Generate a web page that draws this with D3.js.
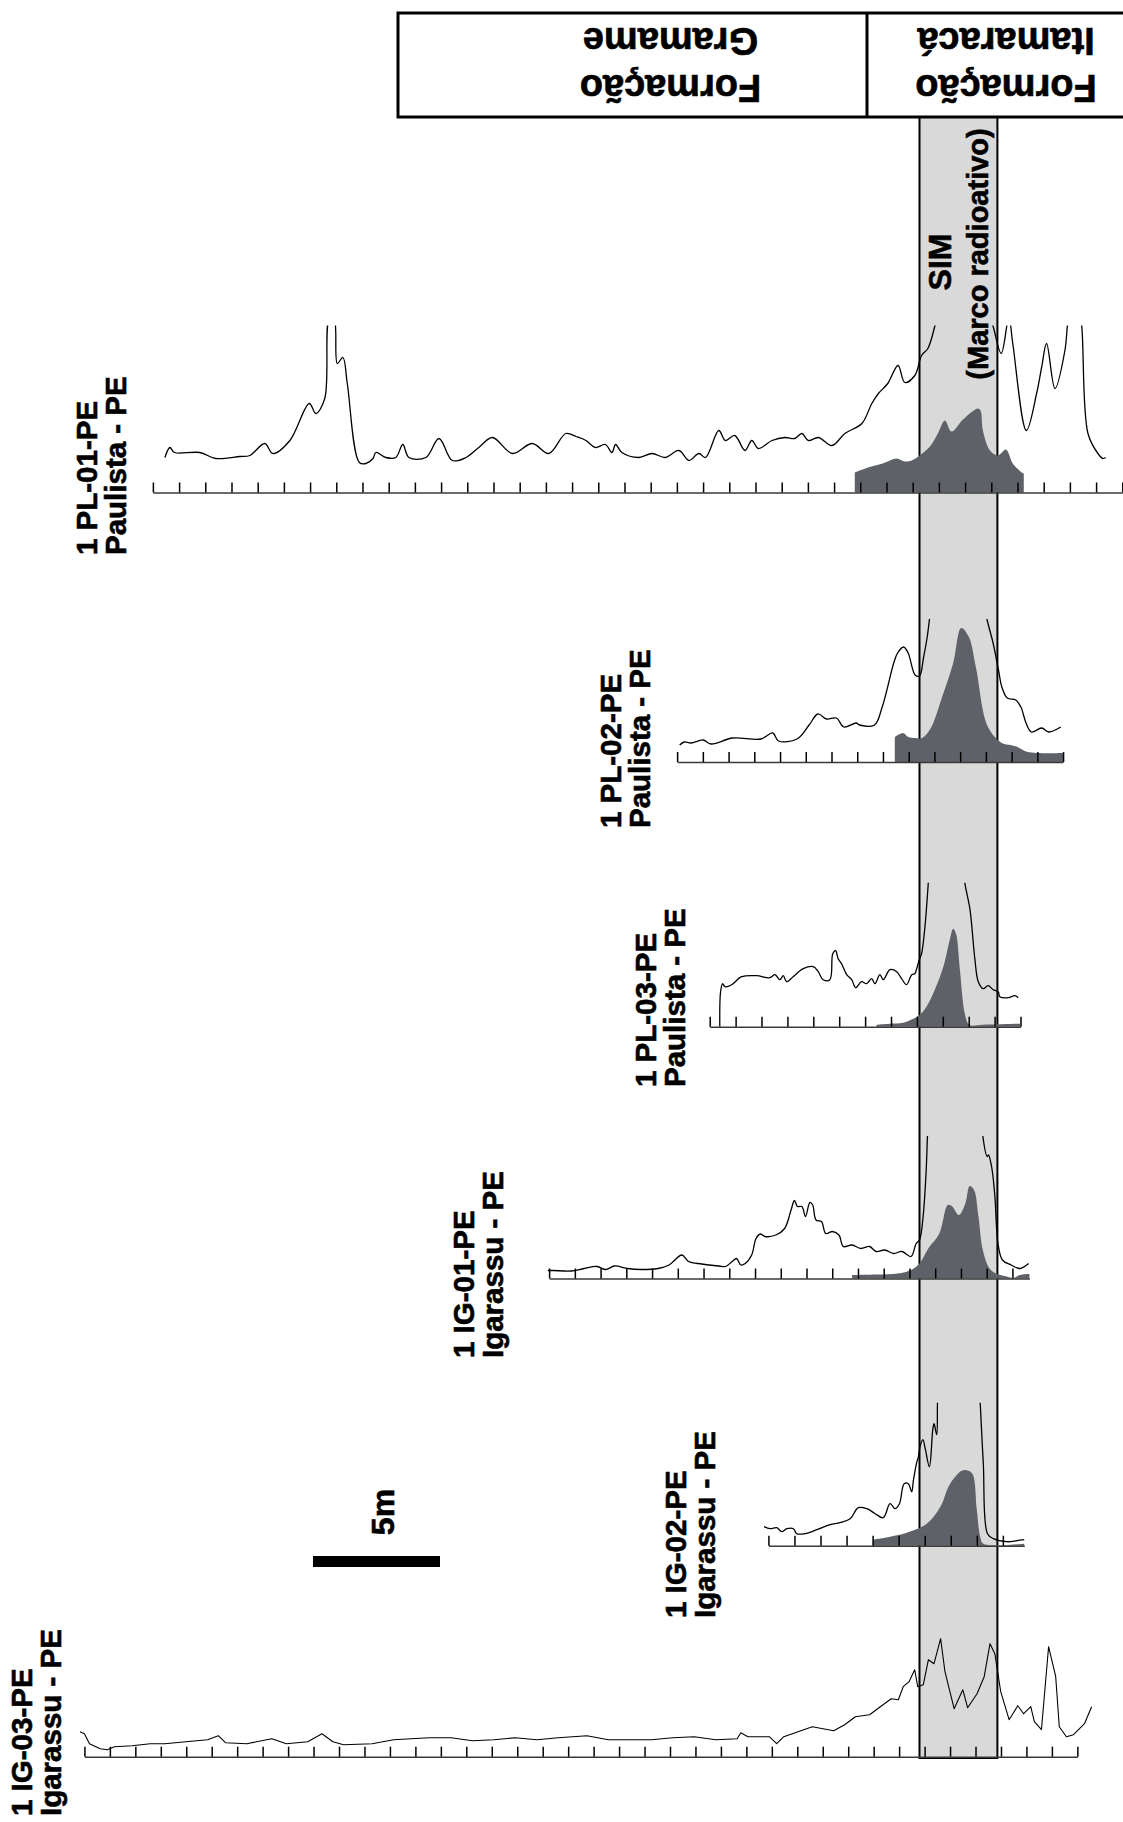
<!DOCTYPE html>
<html>
<head>
<meta charset="utf-8">
<script src="https://cdn.jsdelivr.net/npm/d3@7"></script>
<style>
body { margin:0; background:#fff; }
svg { display:block; }
text { font-family: "Liberation Sans", Arial, Helvetica, sans-serif; font-weight:bold; fill:#000; stroke:#000; stroke-width:0.6px; }
</style>
</head>
<body>
<svg id="chart"></svg>
<script>
var width = 1123;
var height = 1822;

// wells, from top of page to bottom
var wellIds = ["1 PL-01-PE", "1 PL-02-PE", "1 PL-03-PE", "1 IG-01-PE", "1 IG-02-PE", "1 IG-03-PE"];
var wellTowns = ["Paulista - PE", "Paulista - PE", "Paulista - PE", "Igarassu - PE", "Igarassu - PE", "Igarassu - PE"];
// depth (m, from first tick) of the top of the SIM marker in each well
var simTop = [29.26, 9.42, 8.10, 14.39, 5.80, 32.80];
// logged interval (m)
var logLength = [37, 15, 12, 18.66, 9.82, 39];

// gamma ray curves [depth m, API]
var grPL01 = [[0.46,35],[0.65,45],[0.82,40],[1.79,40],[2.40,34],[3.32,36],[3.70,37],[4.27,49],[4.58,39],[5.23,52],[5.97,89],[6.22,79],[6.56,94],[6.74,175],[6.91,175],[7.04,129],[7.25,135],[7.42,109],[7.88,30],[8.13,29],[8.40,34],[8.51,40],[8.89,35],[9.27,35],[9.54,48],[9.77,35],[10.42,35],[10.92,54],[11.43,32],[11.95,35],[12.44,45],[12.96,55],[13.72,39],[14.48,49],[15.11,39],[15.76,59],[16.15,56],[16.53,52],[16.89,45],[17.27,48],[17.52,40],[17.66,48],[17.90,40],[18.55,35],[19.05,39],[19.56,35],[20.08,42],[20.46,32],[20.84,39],[21.09,35],[21.60,62],[21.85,52],[22.21,57],[22.60,42],[22.86,52],[23.11,44],[23.63,52],[24.12,55],[24.50,54],[24.77,59],[25.02,52],[25.40,55],[25.92,47],[26.41,59],[27.06,69],[27.44,89],[27.69,99],[28.05,109],[28.44,127],[28.70,110],[29.08,117],[29.34,137],[29.58,144],[29.85,167],[30.04,190],[31.76,190],[32.06,167],[32.38,139],[32.67,175],[32.82,149],[33.34,62],[33.73,99],[33.92,125],[34.11,149],[34.43,104],[34.81,142],[34.92,170],[35.08,190],[35.31,190],[35.45,167],[35.69,59],[36.07,39],[36.26,34],[36.37,35]];
var grPL02 = [[0.10,17],[0.27,20],[0.54,19],[1.01,22],[1.32,18],[2.16,24],[3.25,23],[3.72,29],[3.94,21],[4.66,23],[5.13,37],[5.47,48],[5.81,43],[6.19,44],[6.48,35],[6.96,39],[7.09,37],[7.67,37],[7.97,55],[8.43,100],[8.57,109],[8.80,115],[8.98,109],[9.25,87],[9.42,86],[9.58,105],[9.72,125],[9.81,143],[9.91,160],[11.93,160],[12.04,143],[12.28,119],[12.49,92],[12.62,75],[12.83,64],[13.16,62],[13.36,55],[13.56,39],[13.77,30],[14.17,34],[14.44,30],[14.91,35]];
var grPL03 = [[0.39,0],[0.42,35],[0.50,43],[0.59,40],[0.85,42],[1.23,50],[1.81,51],[2.32,49],[2.52,52],[2.71,47],[2.84,51],[2.97,45],[3.22,50],[3.61,58],[4.00,60],[4.19,55],[4.38,47],[4.64,47],[4.75,73],[4.86,76],[4.96,68],[5.09,63],[5.29,52],[5.48,47],[5.64,39],[5.86,45],[6.06,43],[6.25,48],[6.38,43],[6.57,52],[6.70,47],[6.96,57],[7.22,55],[7.41,48],[7.60,42],[7.80,52],[7.92,53],[7.99,58],[8.09,67],[8.18,73],[8.31,100],[8.44,144],[8.50,170],[9.78,170],[9.85,144],[10.05,117],[10.24,67],[10.37,45],[10.56,38],[10.75,41],[10.95,37],[11.14,35],[11.20,30],[11.53,29],[11.78,31],[11.91,29]];
var grIG01 = [[-0.05,8],[0.17,8],[0.85,7.5],[1.36,10],[1.86,12],[2.20,9],[2.54,12.5],[3.05,10],[3.55,9],[4.23,10],[4.66,13.5],[5.16,23.5],[5.42,17],[5.93,14.5],[6.60,12.5],[6.86,12],[7.11,17],[7.28,20],[7.45,13.5],[7.62,15],[7.87,23.5],[8.04,40],[8.21,44.5],[8.38,42],[8.81,43.5],[9.15,50],[9.40,68.5],[9.53,78],[9.65,72],[9.82,72],[9.96,62],[10.13,76],[10.24,73.5],[10.37,58.5],[10.58,57],[10.75,45],[11.01,47],[11.26,43.5],[11.43,32],[11.77,33.5],[12.11,30],[12.45,32],[12.70,27],[13.04,28.5],[13.38,25],[13.71,27],[14.06,22],[14.26,35],[14.39,38.5],[14.53,62],[14.65,108.5],[14.70,142.5],[14.76,170],[16.79,170],[16.85,142.5],[17.02,122],[17.07,123.5],[17.19,112],[17.31,85],[17.44,35],[17.61,18.5],[17.95,13.5],[18.29,10],[18.63,15]];
var grIG02 = [[-0.17,19],[0.07,17],[0.32,18],[0.51,14],[0.71,17],[0.96,17],[1.09,12],[1.41,12],[1.86,16],[2.37,21],[2.75,23],[3.14,27],[3.45,38],[3.78,37],[4.10,32],[4.41,28],[4.67,42],[4.86,37],[5.03,42],[5.21,62],[5.37,62],[5.50,54],[5.57,66],[5.70,84],[5.76,89],[5.82,99],[5.93,106],[6.02,97],[6.18,79],[6.31,116],[6.36,122],[6.46,111],[6.49,143],[6.52,170],[8.09,170],[8.13,143],[8.25,82],[8.41,12],[8.64,7],[9.15,4],[9.54,5],[9.82,6]];
var grIG03 = [[-0.17,25],[0,23],[0.20,13],[0.62,8],[0.90,7],[1.18,10],[1.88,11],[2.58,13],[3.15,13],[3.99,15],[4.84,17],[5.26,21],[5.54,14],[6.38,13],[7.36,18],[7.93,13],[8.77,15],[9.33,23],[9.76,15],[10.18,12],[11.30,13],[12.14,17],[13.55,19],[14.40,19],[15.24,16],[16.08,17],[16.92,19],[17.77,17],[18.61,19],[19.18,20],[19.74,21],[20.58,17],[21.42,17],[22.27,17],[23.11,19],[23.95,20],[24.80,17],[25.64,18],[25.78,24],[26.06,20],[26.90,20],[27.19,13],[27.47,20],[28.03,25],[28.59,30],[29.01,28],[29.43,26],[29.86,32],[30.28,40],[30.84,42],[31.26,50],[31.69,58],[31.97,57],[32.16,70],[32.39,75],[32.61,87],[32.73,70],[32.95,72],[33.15,97],[33.37,93],[33.63,118],[33.80,85],[34.16,48],[34.50,67],[34.69,49],[35.06,63],[35.34,80],[35.57,113],[35.76,103],[35.99,65],[36.32,37],[36.66,51],[36.89,43],[37.17,50],[37.31,35],[37.59,27],[37.87,110],[38.15,80],[38.29,30],[38.57,20],[38.85,22],[39.28,33],[39.56,50]];

// second log, shaded [depth m, value]
var fillPL01 = [[26.79,20],[27.29,25],[27.86,29],[28.39,34],[28.70,31],[28.96,32],[29.66,46],[29.96,59],[30.23,72],[30.48,61],[30.92,73],[31.49,84],[31.59,82],[31.68,62],[31.95,42],[32.25,37],[32.56,43],[32.82,29],[33.16,20],[33.24,19]];
var fillPL02 = [[8.46,25],[8.78,29],[8.98,25],[9.25,24],[9.52,24],[9.86,34],[10.26,62],[10.73,99],[11.04,134],[11.34,125],[11.61,95],[12.08,35],[12.62,19],[12.96,17],[13.23,15],[13.63,10],[15.0,9]];
var fillPL03 = [[6.44,2],[6.96,3],[7.47,4],[7.86,8],[8.12,12],[8.37,20],[8.69,37],[9.02,60],[9.27,87],[9.40,98],[9.51,93],[9.66,57],[9.85,13],[10.02,2],[10.56,2],[11.98,3]];
var fillIG01 = [[11.77,3.5],[12.70,4],[13.55,5],[14.06,8.5],[14.39,15],[14.73,30],[15.16,45],[15.49,73.5],[15.66,72],[15.92,63.5],[16.17,75],[16.34,92.5],[16.51,88.5],[16.68,62],[16.85,28.5],[17.11,10],[17.36,5],[17.78,2],[18.03,0.5],[18.29,3.5],[18.66,4.5]];
var fillIG02 = [[4.01,6],[4.67,9],[5.31,13],[5.82,18],[6.08,22],[6.40,31],[6.66,42],[6.91,59],[7.17,69],[7.42,75],[7.68,75],[7.85,71],[8.00,36],[8.13,9],[8.25,2],[9.82,2]];

var grCurves = [grPL01, grPL02, grPL03, grIG01, grIG02, grIG03];
var fillCurves = [fillPL01, fillPL02, fillPL03, fillIG01, fillIG02, null];

var formationNames = [["Formação", "Gramame"], ["Formação", "Itamaracá"]];
var markerText = ["SIM", "(Marco radioativo)"];
var scaleMeters = 5;
var scaleText = "5m";

// page layout
var band = {left: 919.5, right: 997.4, top: 117, bottom: 1758};
var header = {left: 398, top: 13, bottom: 117, split: 867};
var trackLayout = [
    {axisY: 492.5, pxPerM: 26.2, clipH: 167, labelX: 97, labelY: 555},
    {axisY: 762, pxPerM: 25.73, clipH: 143, labelX: 621, labelY: 828},
    {axisY: 1026.7, pxPerM: 25.9, clipH: 144, labelX: 656, labelY: 1087},
    {axisY: 1278.5, pxPerM: 25.74, clipH: 142.5, labelX: 474, labelY: 1358},
    {axisY: 1545.7, pxPerM: 26.05, clipH: 143, labelX: 686, labelY: 1618},
    {axisY: 1756.7, pxPerM: 25.46, clipH: 170, labelX: 32, labelY: 1816}
];

var svg = d3.select("#chart")
    .attr("width", width)
    .attr("height", height);

var defs = svg.append("defs");

var drawBand = function()
{
    svg.append("rect")
        .attr("x", band.left)
        .attr("y", band.top)
        .attr("width", band.right - band.left)
        .attr("height", band.bottom - band.top)
        .attr("fill", "#d9d9d9")
        .attr("stroke", "#000")
        .attr("stroke-width", 2);
}

var drawHeader = function()
{
    svg.append("rect")
        .attr("x", header.left)
        .attr("y", header.top)
        .attr("width", width - header.left + 10)
        .attr("height", header.bottom - header.top)
        .attr("fill", "#fff")
        .attr("stroke", "#000")
        .attr("stroke-width", 3);
    svg.append("line")
        .attr("x1", header.split).attr("x2", header.split)
        .attr("y1", header.top).attr("y2", header.bottom)
        .attr("stroke", "#000")
        .attr("stroke-width", 3);

    var centers = [(header.left + header.split) / 2 + 38, (header.split + width) / 2 + 11];
    formationNames.forEach(function(name, i)
    {
        var t = svg.append("text")
            .attr("transform", "translate(" + centers[i] + ",65) rotate(180)")
            .attr("text-anchor", "middle")
            .attr("font-size", 38);
        t.append("tspan").attr("x", 0).attr("y", -10).text(name[0]);
        t.append("tspan").attr("x", 0).attr("y", 37).text(name[1]);
    });

    svg.append("text")
        .attr("transform", "translate(951,262) rotate(-90)")
        .attr("text-anchor", "middle")
        .attr("font-size", 32)
        .text(markerText[0]);
    svg.append("text")
        .attr("transform", "translate(988,254) rotate(-90)")
        .attr("text-anchor", "middle")
        .attr("font-size", 29)
        .text(markerText[1]);
}

var drawWell = function(i)
{
    var lay = trackLayout[i];
    var x0 = band.left - simTop[i] * lay.pxPerM;

    var xScale = d3.scaleLinear()
        .domain([0, logLength[i]])
        .range([x0, x0 + logLength[i] * lay.pxPerM]);

    var yScale = d3.scaleLinear()
        .domain([0, 170])
        .range([lay.axisY, lay.axisY - 170]);

    defs.append("clipPath")
        .attr("id", "clip" + i)
        .append("rect")
        .attr("x", 0)
        .attr("y", lay.axisY - lay.clipH)
        .attr("width", width)
        .attr("height", lay.clipH + 4);

    var g = svg.append("g")
        .attr("clip-path", "url(#clip" + i + ")");

    // IG-03 is a raw jagged log, the others are smoothed
    var curve = i == 5 ? d3.curveLinear : d3.curveCatmullRom.alpha(0.5);

    if (fillCurves[i])
    {
        var area = d3.area()
            .x(function(d) { return xScale(d[0]) })
            .y0(lay.axisY)
            .y1(function(d) { return yScale(d[1]) })
            .curve(curve);
        g.append("path")
            .datum(fillCurves[i])
            .attr("d", area)
            .attr("fill", "#5f6168");
    }

    var axis = d3.axisTop(xScale)
        .tickValues(d3.range(0, Math.floor(logLength[i] + 0.01) + 1))
        .tickSize(10)
        .tickSizeOuter(0)
        .tickFormat("");

    var ax = svg.append("g")
        .attr("transform", "translate(0," + lay.axisY + ")")
        .call(axis);
    ax.select(".domain")
        .attr("stroke", "#3a3a3a")
        .attr("stroke-width", 1.6);
    ax.selectAll(".tick line")
        .attr("stroke", "#000")
        .attr("stroke-width", 1.5);

    var line = d3.line()
        .x(function(d) { return xScale(d[0]) })
        .y(function(d) { return yScale(d[1]) })
        .curve(curve);

    g.append("path")
        .datum(grCurves[i])
        .attr("d", line)
        .attr("fill", "none")
        .attr("stroke", "#000")
        .attr("stroke-width", i == 5 ? 1.1 : 1.3)
        .attr("stroke-linejoin", "round");

    var label = svg.append("text")
        .attr("transform", "translate(" + lay.labelX + "," + lay.labelY + ") rotate(-90)")
        .attr("font-size", 29.5);
    label.append("tspan").attr("x", 0).attr("y", 0).text(wellIds[i]);
    label.append("tspan").attr("x", 0).attr("y", 29).text(wellTowns[i]);
}

var drawScaleBar = function()
{
    var sScale = d3.scaleLinear()
        .domain([0, scaleMeters])
        .range([313, 313 + scaleMeters * 25.4]);

    svg.append("rect")
        .attr("x", sScale(0))
        .attr("y", 1556)
        .attr("width", sScale(scaleMeters) - sScale(0))
        .attr("height", 11)
        .attr("fill", "#000");

    svg.append("text")
        .attr("transform", "translate(394,1512) rotate(-90)")
        .attr("text-anchor", "middle")
        .attr("font-size", 32)
        .text(scaleText);
}

drawBand();
drawHeader();
for (var i = 0; i < wellIds.length; i++)
{
    drawWell(i);
}
drawScaleBar();
</script>
</body>
</html>
